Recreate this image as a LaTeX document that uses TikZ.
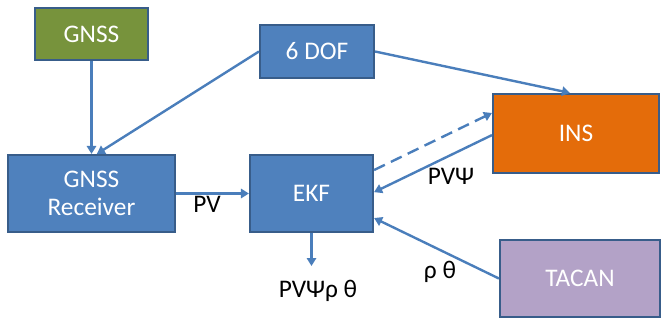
\documentclass[tikz,border=0pt]{standalone}
\usepackage{fontspec}
\setmainfont{Carlito}
\usetikzlibrary{arrows.meta}

\definecolor{edgeblue}{HTML}{385D8A}
\definecolor{boxblue}{HTML}{4F81BD}
\definecolor{linkblue}{HTML}{4A7EBB}
\definecolor{gnssgreen}{HTML}{77933C}
\definecolor{insorange}{HTML}{E46C0A}
\definecolor{tacanpurple}{HTML}{B3A2C7}

\tikzset{
  block/.style 2 args={draw=edgeblue, line width=1.6pt, text=white,
    minimum width=#1*0.75pt, minimum height=#2*0.75pt,
    inner sep=0pt, align=center, font=\fontsize{19}{21}\selectfont},
  link/.style={draw=linkblue, line width=1.8pt,
    -{Triangle[width=7pt,length=6pt]}},
  tag/.style={font=\fontsize{19}{21}\selectfont, text=black}
}

\begin{document}
\begin{tikzpicture}[x=0.75pt, y=-0.75pt]
    \useasboundingbox (0,0) rectangle (664,322);

    \node[block={113}{52}, fill=gnssgreen] (gnss) at (91.5,34) {GNSS};
    \node[block={114}{53}, fill=boxblue] (dof) at (317,51.5) {6 DOF};
    \node[block={167}{77}, fill=boxblue] (rcv) at (91.5,193.5) {GNSS\\Receiver};
    \node[block={123}{77}, fill=boxblue] (ekf) at (311.5,193.5) {EKF};
    \node[block={166}{79}, fill=insorange] (ins) at (576,133.5) {INS};
    \node[block={160}{77}, fill=tacanpurple] (tacan) at (580,278.5) {TACAN};

    \coordinate (out) at (311.5,266);

    \node[tag] (pv) at (207,204) {PV};
    \node[tag] (pvpsi) at (451,176) {PVΨ};
    \node[tag] (rhotheta) at (440,272) {ρ θ};
    \node[tag] (estimate) at (318,291) {PVΨρ θ};

    % sensor links
    \draw[link] (gnss.south) -- (rcv.north);
    \draw[link] (dof.west) -- ([xshift=4pt]rcv.north);
    \draw[link] (dof.east) -- ([xshift=-4.5pt]ins.north);
    \draw[link] (rcv.east) -- (ekf.west);

    % filter loop
    \draw[link, dashed, dash pattern=on 9pt off 5pt]
      ([yshift=17.6pt]ekf.east) -- ([yshift=15.4pt]ins.west);
    \draw[link] ([yshift=-1.2pt]ins.west) -- ([yshift=1pt]ekf.east);
    \draw[link] (tacan.west) -- ([yshift=-18.4pt]ekf.east);
    \draw[link] (ekf.south) -- (out);
\end{tikzpicture}
\end{document}
